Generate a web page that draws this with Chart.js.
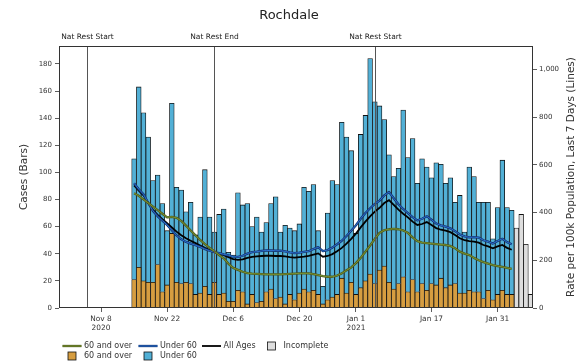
<!DOCTYPE html>
<html>
<head>
<meta charset="utf-8">
<script src="https://cdn.jsdelivr.net/npm/chart.js@4.4.1/dist/chart.umd.min.js"></script>
<style>
  html, body { margin: 0; padding: 0; background: #fff; }
</style>
</head>
<body>
<canvas id="chartRochdale" width="578" height="364"></canvas>
<script>
// day 0 = Nov 15 2020, one bar per day
const over60Cases = [21, 30, 20, 19, 19, 32, 12, 17, 55, 19, 18, 19, 18, 10, 11, 16, 10, 19, 10, 11,
    5, 5, 13, 12, 3, 10, 4, 5, 12, 14, 7, 8, 3, 10, 6, 11, 14, 12, 13, 10,
    3, 6, 8, 10, 22, 11, 19, 10, 15, 20, 25, 18, 28, 31, 19, 14, 18, 23, 12, 21,
    12, 18, 13, 18, 17, 22, 15, 17, 18, 11, 11, 13, 12, 12, 7, 13, 6, 10, 13, 10, 10];
const under60Cases = [89, 133, 124, 107, 75, 66, 65, 40, 96, 70, 69, 52, 60, 44, 56, 86, 57, 37, 59, 62,
    36, 34, 72, 64, 74, 50, 63, 51, 51, 63, 75, 48, 58, 49, 51, 51, 75, 74, 78, 47,
    13, 64, 86, 81, 115, 115, 97, 45, 113, 122, 159, 134, 121, 108, 94, 83, 85, 123, 99, 104,
    80, 92, 91, 78, 90, 84, 77, 79, 60, 72, 45, 91, 85, 66, 71, 65, 45, 64, 96, 64, 62];
const incompleteCases = [59, 69, 47, 10];

const rateOver60 = [481, 470, 455, 440, 425, 410, 395, 380, 382, 378, 365, 345, 325, 305, 285, 268, 252, 238, 222, 208,
    185, 168, 160, 152, 146, 144, 143, 142, 141, 141, 141, 141, 142, 143, 144, 145, 145, 145, 142, 138,
    134, 131, 131, 136, 145, 158, 170, 188, 210, 236, 262, 290, 315, 326, 330, 332, 330, 325, 315, 296,
    280, 274, 272, 270, 268, 266, 264, 260, 250, 236, 228, 222, 210, 200, 192, 186, 180, 176, 172, 168, 164];
const rateUnder60 = [523, 498, 477, 440, 407, 384, 366, 348, 326, 304, 288, 277, 270, 263, 256, 247, 240, 234, 230, 225,
    221, 215, 214, 219, 228, 234, 236, 239, 241, 241, 240, 240, 237, 233, 230, 232, 235, 238, 247, 255,
    238, 243, 253, 267, 282, 302, 324, 347, 374, 398, 418, 436, 450, 472, 486, 460, 435, 415, 398, 381,
    367, 374, 385, 370, 354, 346, 341, 334, 322, 308, 300, 296, 297, 295, 284, 278, 270, 281, 290, 276, 267];
const rateAllAges = [514, 492, 472, 440, 411, 390, 372, 355, 338, 320, 305, 292, 282, 272, 262, 252, 243, 235, 228, 221,
    213, 205, 202, 204, 210, 214, 216, 218, 219, 219, 218, 218, 216, 213, 211, 213, 215, 218, 224, 229,
    215, 218, 226, 238, 252, 270, 290, 312, 338, 362, 384, 404, 420, 440, 452, 432, 412, 395, 380, 362,
    348, 352, 360, 348, 335, 328, 324, 318, 306, 292, 284, 280, 278, 274, 264, 258, 250, 258, 264, 252, 244];

const tickDays = [-7, 7, 21, 35, 47, 63, 77];
const tickLabels = [['Nov 8', '2020'], 'Nov 22', 'Dec 6', 'Dec 20', ['Jan 1', '2021'], 'Jan 17', 'Jan 31'];
const restrictionDays = [-10, 17, 51];
const restrictionLabels = ['Nat Rest Start', 'Nat Rest End', 'Nat Rest Start'];

const FONT = "'DejaVu Sans', sans-serif";
const TEXT = '#333';

const toPoints = (values, start) => values.map((v, i) => ({ x: start + i, y: v }));

const barStyle = {
    type: 'bar',
    stack: 'cases',
    yAxisID: 'y',
    borderColor: '#111',
    borderWidth: 0.8,
    barPercentage: 1,
    categoryPercentage: 1,
    order: 2
};

const lineStyle = {
    type: 'line',
    yAxisID: 'y2',
    pointRadius: 0,
    tension: 0,
    order: 0
};

const data = {
    datasets: [
        { ...barStyle, label: '60 and over', data: toPoints(over60Cases, 0), backgroundColor: '#d69d40' },
        { ...barStyle, label: 'Under 60', data: toPoints(under60Cases, 0), backgroundColor: '#52b0d6' },
        { ...barStyle, label: 'Incomplete', data: toPoints(incompleteCases, over60Cases.length), backgroundColor: '#dedede' },
        { ...lineStyle, label: '60 and over', data: toPoints(rateOver60, 0), borderColor: '#7f9a34', borderWidth: 0.9, outlineColor: '#4d5a1c', outlineWidth: 2.3 },
        { ...lineStyle, label: 'Under 60', data: toPoints(rateUnder60, 0), borderColor: '#2f78d8', borderWidth: 0.9, outlineColor: '#123270', outlineWidth: 2.3 },
        { ...lineStyle, label: 'All Ages', data: toPoints(rateAllAges, 0), borderColor: '#000', borderWidth: 1.8 }
    ]
};

// legend: rows of dataset indexes
const legendRows = [[3, 4, 5, 2], [0, 1]];
const legendCols = [62.5, 138.5, 202, 262];
const legendRowY = [346, 356];

const extras = {
    id: 'extras',
    beforeDatasetDraw(chart, args) {
        const ds = chart.data.datasets[args.index];
        if (!ds.outlineColor) return;
        const c = chart.ctx, a = chart.chartArea;
        c.save();
        c.beginPath();
        c.rect(a.left, a.top, a.width, a.height);
        c.clip();
        c.beginPath();
        args.meta.data.forEach((p, i) => i ? c.lineTo(p.x, p.y) : c.moveTo(p.x, p.y));
        c.strokeStyle = ds.outlineColor;
        c.lineWidth = ds.outlineWidth;
        c.lineJoin = 'round';
        c.stroke();
        c.restore();
    },
    afterDatasetsDraw(chart) {
        const c = chart.ctx, a = chart.chartArea, x = chart.scales.x;
        c.save();
        c.font = `7.5px ${FONT}`;
        c.textAlign = 'center';
        c.textBaseline = 'middle';
        restrictionDays.forEach((d, i) => {
            const px = Math.round(x.getPixelForValue(d)) + 0.5;
            c.strokeStyle = '#555';
            c.lineWidth = 1;
            c.beginPath();
            c.moveTo(px, a.top);
            c.lineTo(px, a.bottom);
            c.stroke();
            c.fillStyle = '#222';
            c.fillText(restrictionLabels[i], px, a.top - 9);
        });
        c.strokeStyle = '#333';
        c.lineWidth = 1;
        c.strokeRect(Math.round(a.left) + 0.5, Math.round(a.top) + 0.5, Math.round(a.width) - 1, Math.round(a.height) - 1);
        c.restore();
    },
    afterDraw(chart) {
        const c = chart.ctx, a = chart.chartArea;
        c.save();
        // right axis title, reading upwards
        c.translate(571.5, (a.top + a.bottom) / 2);
        c.rotate(-Math.PI / 2);
        c.font = `10.5px ${FONT}`;
        c.fillStyle = TEXT;
        c.textAlign = 'center';
        c.textBaseline = 'middle';
        c.fillText('Rate per 100k Population, Last 7 Days (Lines)', 0, 0);
        c.restore();

        c.save();
        c.font = `8px ${FONT}`;
        c.textBaseline = 'middle';
        c.textAlign = 'left';
        legendRows.forEach((row, r) => {
            const y = legendRowY[r];
            row.forEach((idx, col) => {
                const ds = chart.data.datasets[idx];
                const x0 = legendCols[col];
                if (ds.type === 'line') {
                    if (ds.outlineColor) {
                        c.strokeStyle = ds.outlineColor;
                        c.lineWidth = ds.outlineWidth;
                        c.beginPath(); c.moveTo(x0, y); c.lineTo(x0 + 19, y); c.stroke();
                    }
                    c.strokeStyle = ds.borderColor;
                    c.lineWidth = ds.borderWidth;
                    c.beginPath(); c.moveTo(x0, y); c.lineTo(x0 + 19, y); c.stroke();
                } else {
                    c.fillStyle = ds.backgroundColor;
                    c.fillRect(x0 + 5.5, y - 4, 8, 8);
                    c.strokeStyle = '#111';
                    c.lineWidth = 0.8;
                    c.strokeRect(x0 + 5.5, y - 4, 8, 8);
                }
                c.fillStyle = TEXT;
                c.fillText(ds.label, x0 + 21.5, y);
            });
        });
        c.restore();
    }
};

const tickGrid = {
    drawOnChartArea: false,
    drawTicks: true,
    tickLength: 4,
    tickColor: '#333',
    tickWidth: 0.8
};

const chartRochdale = new Chart(document.getElementById('chartRochdale').getContext('2d'), {
    type: 'bar',
    data: data,
    options: {
        responsive: false,
        animation: false,
        events: [],
        layout: { padding: { left: 0, right: 0, top: 0, bottom: 26 } },
        plugins: {
            legend: { display: false },
            tooltip: { enabled: false },
            title: {
                display: true,
                text: 'Rochdale',
                color: '#222',
                font: { family: FONT, size: 13, weight: 'normal' },
                padding: { top: 8, bottom: 22.4 }
            }
        },
        scales: {
            x: {
                type: 'linear',
                min: -15.9,
                max: 84.5,
                offset: false,
                grid: { ...tickGrid, offset: false },
                border: { display: false },
                afterBuildTicks: (axis) => { axis.ticks = tickDays.map(v => ({ value: v })); },
                afterFit: (axis) => { axis.height = 30; },
                ticks: {
                    autoSkip: false,
                    maxRotation: 0,
                    padding: 3,
                    color: TEXT,
                    font: { family: FONT, size: 7.4 },
                    callback: (v) => tickLabels[tickDays.indexOf(v)]
                }
            },
            y: {
                position: 'left',
                stacked: true,
                min: 0,
                max: 193.2,
                grid: tickGrid,
                border: { display: false },
                afterFit: (axis) => { axis.width = 59; },
                ticks: {
                    stepSize: 20,
                    includeBounds: false,
                    padding: 3,
                    color: TEXT,
                    font: { family: FONT, size: 7 }
                },
                title: {
                    display: true,
                    text: 'Cases (Bars)',
                    color: TEXT,
                    font: { family: FONT, size: 10.5 },
                    padding: { top: 17.7, bottom: 0 }
                }
            },
            y2: {
                position: 'right',
                min: 0,
                max: 1098,
                grid: tickGrid,
                border: { display: false },
                afterFit: (axis) => { axis.width = 45; },
                ticks: {
                    stepSize: 200,
                    includeBounds: false,
                    padding: 2,
                    color: TEXT,
                    font: { family: FONT, size: 7 }
                }
            }
        }
    },
    plugins: [extras]
});
</script>
</body>
</html>
